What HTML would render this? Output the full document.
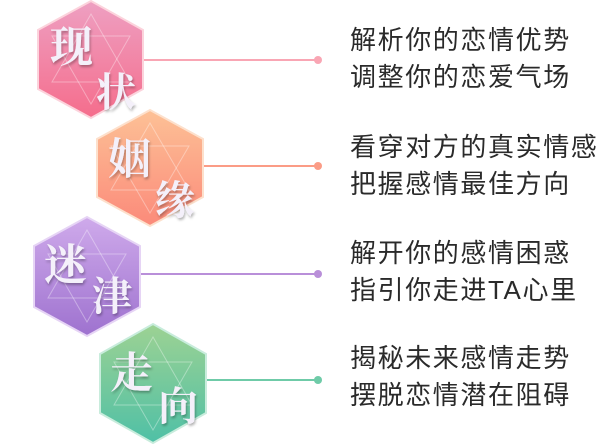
<!DOCTYPE html>
<html><head><meta charset="utf-8"><style>
body{margin:0;width:600px;height:444px;background:#fff;overflow:hidden;position:relative;font-family:"Liberation Sans","Noto Sans CJK SC",sans-serif}
svg{position:absolute;left:0;top:0}
.t{position:absolute;left:350px;font-size:26px;letter-spacing:1.6px;color:#2a2a2a;line-height:37px;white-space:nowrap}
</style></head><body>
<svg width="600" height="444">
<defs>
<linearGradient id="g1" x1="0" y1="0" x2="0" y2="1"><stop offset="0" stop-color="#eea0c2"/><stop offset="1" stop-color="#f56d8c"/></linearGradient>
<linearGradient id="g2" x1="0" y1="0" x2="0" y2="1"><stop offset="0" stop-color="#fdc196"/><stop offset="1" stop-color="#fb8a7a"/></linearGradient>
<linearGradient id="g3" x1="0" y1="0" x2="0" y2="1"><stop offset="0" stop-color="#cfaaeb"/><stop offset="1" stop-color="#9e72cf"/></linearGradient>
<linearGradient id="g4" x1="0" y1="0" x2="0" y2="1"><stop offset="0" stop-color="#9dd293"/><stop offset="1" stop-color="#4fc0a6"/></linearGradient>
<filter id="sh"><feDropShadow dx="1" dy="2" stdDeviation="1.2" flood-color="#000" flood-opacity="0.3"/></filter>
</defs>
<line x1="143" y1="60" x2="318" y2="60" stroke="#f9a6b4" stroke-width="2"/><circle cx="318" cy="60" r="4" fill="#f9a6b4"/>
<polygon points="91,1 143,30 143,89 91,118 38,89 38,30" fill="url(#g1)" stroke="#fcd3dc" stroke-width="2"/>
<polygon points="91,14 130,82 52,82" fill="none" stroke="#fff" stroke-opacity=".35"/><polygon points="91,104 130,36 52,36" fill="none" stroke="#fff" stroke-opacity=".35"/>
<text x="50" y="62" font-size="43" font-weight="bold" fill="#f4f0fa" font-family="Liberation Serif,Noto Serif CJK SC,serif" filter="url(#sh)">现</text>
<text x="96" y="106" font-size="40" font-weight="bold" fill="#f4f0fa" font-family="Liberation Serif,Noto Serif CJK SC,serif" filter="url(#sh)">状</text>
<line x1="203" y1="166" x2="318" y2="166" stroke="#fb9c86" stroke-width="2"/><circle cx="318" cy="166" r="4" fill="#fb9c86"/>
<polygon points="150,110 203,139 203,197 150,226 97,197 97,139" fill="url(#g2)" stroke="#fde0cc" stroke-width="2"/>
<polygon points="150,123 189,190 111,190" fill="none" stroke="#fff" stroke-opacity=".35"/><polygon points="150,213 189,146 111,146" fill="none" stroke="#fff" stroke-opacity=".35"/>
<text x="108" y="174" font-size="43" font-weight="bold" fill="#f4f0fa" font-family="Liberation Serif,Noto Serif CJK SC,serif" filter="url(#sh)">姻</text>
<text x="155" y="214" font-size="40" font-weight="bold" fill="#f4f0fa" font-family="Liberation Serif,Noto Serif CJK SC,serif" filter="url(#sh)">缘</text>
<line x1="140" y1="274" x2="318" y2="274" stroke="#b98fd9" stroke-width="2"/><circle cx="318" cy="274" r="4" fill="#b98fd9"/>
<polygon points="87,217 140,246 140,307 87,336 34,307 34,246" fill="url(#g3)" stroke="#e6d4f5" stroke-width="2"/>
<polygon points="87,230 126,298 48,298" fill="none" stroke="#fff" stroke-opacity=".35"/><polygon points="87,322 126,254 48,254" fill="none" stroke="#fff" stroke-opacity=".35"/>
<text x="44" y="280" font-size="43" font-weight="bold" fill="#f4f0fa" font-family="Liberation Serif,Noto Serif CJK SC,serif" filter="url(#sh)">迷</text>
<text x="92" y="310" font-size="40" font-weight="bold" fill="#f4f0fa" font-family="Liberation Serif,Noto Serif CJK SC,serif" filter="url(#sh)">津</text>
<line x1="206" y1="380" x2="318" y2="380" stroke="#6fcba8" stroke-width="2"/><circle cx="318" cy="380" r="4" fill="#6fcba8"/>
<polygon points="153,324 206,354 206,413 153,443 100,413 100,354" fill="url(#g4)" stroke="#c8ecdc" stroke-width="2"/>
<polygon points="153,337 192,405 114,405" fill="none" stroke="#fff" stroke-opacity=".35"/><polygon points="153,430 192,362 114,362" fill="none" stroke="#fff" stroke-opacity=".35"/>
<text x="110" y="388" font-size="43" font-weight="bold" fill="#f4f0fa" font-family="Liberation Serif,Noto Serif CJK SC,serif" filter="url(#sh)">走</text>
<text x="158" y="420" font-size="40" font-weight="bold" fill="#f4f0fa" font-family="Liberation Serif,Noto Serif CJK SC,serif" filter="url(#sh)">向</text>
</svg>
<div class="t" style="top:22px">解析你的恋情优势<br>调整你的恋爱气场</div>
<div class="t" style="top:129px">看穿对方的真实情感<br>把握感情最佳方向</div>
<div class="t" style="top:235px">解开你的感情困惑<br>指引你走进TA心里</div>
<div class="t" style="top:340px">揭秘未来感情走势<br>摆脱恋情潜在阻碍</div>
</body></html>
